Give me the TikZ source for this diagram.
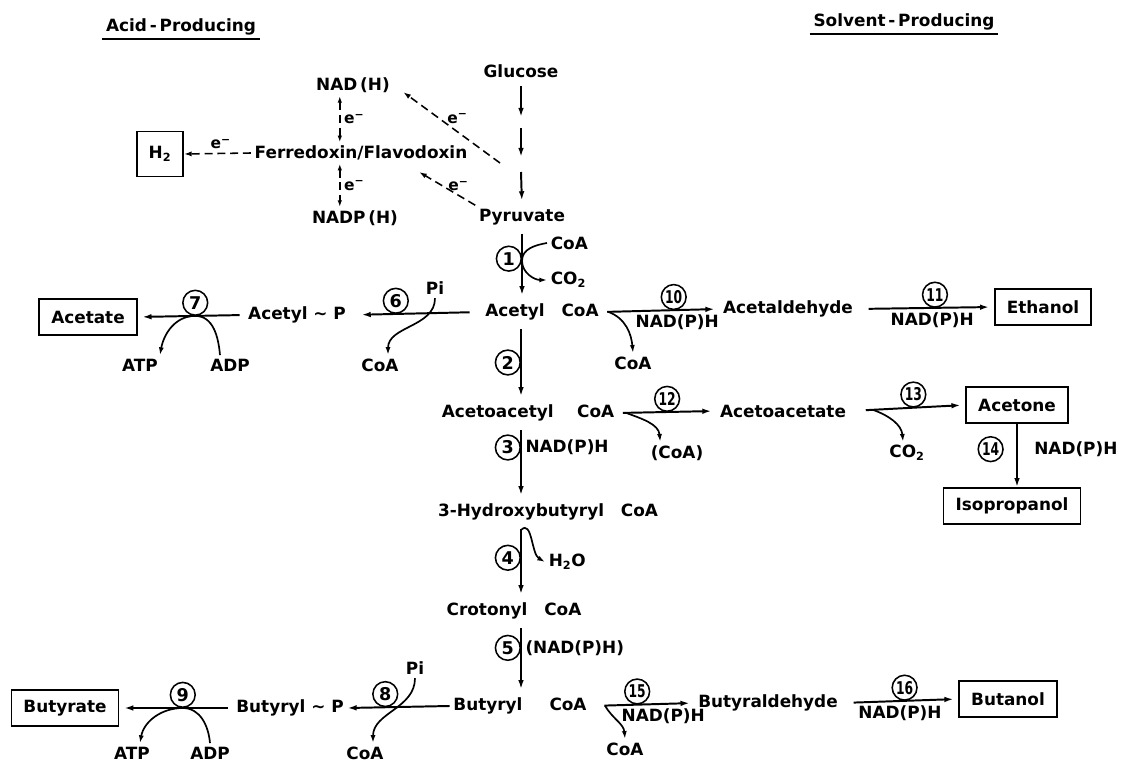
\documentclass[tikz,border=0pt]{standalone}
\usepackage{fontspec}
\setmainfont{DejaVu Sans}
\usepackage{graphicx}
\usetikzlibrary{arrows.meta,positioning}
\newcommand{\nn}[1]{\scalebox{0.7}[1]{#1}}

\begin{document}
\begin{tikzpicture}[x=0.025cm,y=0.025cm,
  every node/.style={font=\bfseries\fontsize{12}{14}\selectfont,inner sep=2.5pt},
  prod/.style={draw,line width=1.2pt,inner xsep=0.3cm,minimum height=0.9cm},
  stepno/.style={circle,draw,line width=1.1pt,inner sep=0pt,minimum size=0.62cm,
    font=\bfseries\fontsize{12.5}{12.5}\selectfont},
  rxn/.style={line width=1.4pt,-{Latex[length=6.5pt,width=4pt]},
    shorten <=0.12cm,shorten >=0.12cm},
  side/.style={line width=1.2pt,-{Latex[length=5.5pt,width=3.6pt]}},
  edash/.style={line width=1.1pt,dash pattern=on 0.2cm off 0.12cm,
    -{Latex[length=5.5pt,width=3.6pt]}},
  elab/.style={font=\bfseries\fontsize{11}{11}\selectfont}]
\useasboundingbox (0,0) rectangle (1123,764);

% headings
\node (acidhdr) at (181,737) {Acid\,-\,Producing};
\node (solvhdr) at (904,742) {Solvent\,-\,Producing};
\draw[line width=1.1pt] (acidhdr.south west) -- (acidhdr.south east);
\draw[line width=1.1pt] (solvhdr.south west) -- (solvhdr.south east);

% glucose -> pyruvate
\node (glucose) at (521,693) {Glucose};
\node (pyruvate) at (522,547) {Pyruvate};
\coordinate (g1) at (521,647);
\coordinate (g2) at (521,636);
\coordinate (g3) at (521,607);
\coordinate (g4) at (521,592);
\draw[rxn,shorten >=0pt] (glucose.south) -- (g1);
\draw[rxn,shorten <=0pt,shorten >=0pt] (g2) -- (g3);
\draw[rxn,shorten <=0pt] (g4) -- (pyruvate.north);

% electron carriers
\node (nadh) at (353,679) {NAD\,(H)};
\node (ferre) at (361,611) {Ferredoxin/Flavodoxin};
\node (nadph) at (355,546) {NADP\,(H)};
\node[prod,inner xsep=0pt,minimum width=1.15cm,minimum height=1.12cm] (htwo) at (160,610) {H\textsubscript{2}};
\draw[edash] (ferre.west) -- node[elab,above,pos=0.45]{e\textsuperscript{−}} (htwo.east);
\coordinate (v1) at ([xshift=-0.33cm]nadh.south);
\draw[edash,{Latex[length=4.5pt,width=3.2pt]}-{Latex[length=4.5pt,width=3.2pt]}]
  (v1) -- (v1 |- ferre.north) node[elab,midway,right]{e\textsuperscript{−}};
\draw[edash,{Latex[length=4.5pt,width=3.2pt]}-{Latex[length=4.5pt,width=3.2pt]}]
  (v1 |- ferre.south) -- (v1 |- nadph.north) node[elab,midway,right]{e\textsuperscript{−}};
\coordinate (gx) at (500,601);
\draw[edash,shorten >=0.3cm] (gx) -- node[elab,pos=0.4,above=3pt]{e\textsuperscript{−}} (nadh.east);
\draw[edash] (pyruvate.north west) -- node[elab,pos=0.3,above]{e\textsuperscript{−}}
  ([shift={(-1.3cm,-0.2cm)}]ferre.south east);

% pyruvate -> acetyl CoA
\node (acetylcoa) at (542,452) {Acetyl\quad CoA};
\draw[rxn] (pyruvate.south) -- coordinate[pos=0.45](k1) node[stepno,left,pos=0.42]{1}
  (pyruvate.south |- acetylcoa.north);
\node[anchor=west] (coa1) at (547,521) {CoA};
\node[anchor=west] (co21) at (547,484) {CO\textsubscript{2}};
\draw[side] (coa1.west) to[out=190,in=90] (k1) to[out=-90,in=180] (co21.west);

% acetate branch
\node (acetylp) at (297,449) {Acetyl \textasciitilde{} P};
\node[prod] (acetate) at (88,447) {Acetate};
\draw[rxn,shorten <=0.3cm,shorten >=0.3cm] (acetylcoa.west) -- node[stepno,above,pos=0.65]{6} (acetylp.east);
\node (pi6) at (435,476) {Pi};
\node (coa6) at (380,399) {CoA};
\draw[side] (pi6.south) to[out=-90,in=90] ([xshift=0.2cm]coa6.north);
\draw[rxn] (acetylp.west) -- coordinate[pos=0.46](p7) node[stepno,above,pos=0.46]{7} (acetate.east);
\node (atp7) at (140,399) {ATP};
\node (adp7) at (230,399) {ADP};
\draw[side] ([xshift=-0.25cm]adp7.north) to[out=95,in=0] (p7)
  to[out=180,in=80] ([xshift=0.5cm]atp7.north);

% ethanol branch
\node (acetaldehyde) at (788,455) {Acetaldehyde};
\node[prod] (ethanol) at (1043,457) {Ethanol};
\draw[rxn] (acetylcoa.east) -- coordinate[pos=0.05](c10) node[stepno,above,pos=0.61]{\nn{10}}
  node[below,pos=0.64]{NAD(P)H} (acetaldehyde.west);
\node (coa10) at (633,401) {CoA};
\draw[side] (c10) to[out=-20,in=95] (coa10.north);
\draw[rxn,shorten <=0.3cm] (acetaldehyde.east) -- node[stepno,above,pos=0.57]{\nn{11}}
  node[below,pos=0.55]{NAD(P)H} (ethanol.west);

% acetyl CoA -> acetoacetyl CoA
\node (acetoacetylcoa) at (528,351) {Acetoacetyl\hspace{1.4em}CoA};
\draw[rxn] (glucose |- acetylcoa.south) -- node[stepno,left]{2} (glucose |- acetoacetylcoa.north);

% acetone / isopropanol branch
\node (acetoacetate) at (783,353) {Acetoacetate};
\draw[rxn] (acetoacetylcoa.east) -- coordinate[pos=0.08](c12) node[stepno,above,pos=0.5]{\nn{12}}
  (acetoacetate.west);
\node (coa12) at (677,311) {(CoA)};
\draw[side] (c12) to[out=-20,in=95] ([xshift=-0.42cm]coa12.north);
\node[prod] (acetone) at (1017,359) {Acetone};
\draw[rxn,shorten <=0.4cm] (acetoacetate.east) -- coordinate[pos=0.2](c13)
  node[stepno,above,pos=0.55]{\nn{13}} (acetone.west);
\node (co13) at (907,311) {CO\textsubscript{2}};
\draw[side] (c13) to[out=-20,in=95] ([xshift=-0.1cm]co13.north);
\node[prod] (isopropanol) at (1012,258) {Isopropanol};
\draw[rxn,shorten <=0pt,shorten >=0pt] (acetone.south) -- node[stepno,left=0.33cm,pos=0.4]{\nn{14}}
  node[right=0.32cm,pos=0.4]{NAD(P)H} (acetone.south |- isopropanol.north);

% acetoacetyl CoA -> butyryl CoA
\node (hydroxy) at (548,252) {3-Hydroxybutyryl\quad CoA};
\draw[rxn] (glucose |- acetoacetylcoa.south) -- node[stepno,left,pos=0.3]{3}
  node[right,pos=0.3]{NAD(P)H} (glucose |- hydroxy.north);
\node (crotonyl) at (514,153) {Crotonyl\quad CoA};
\draw[rxn] (glucose |- hydroxy.south) -- coordinate[pos=0.08](c4) node[stepno,left,pos=0.45]{4}
  (glucose |- crotonyl.north);
\node[anchor=west] (h2o) at (545,202) {H\textsubscript{2}O};
\draw[side] (c4) to[out=45,in=150] (h2o.west);
\node (butyrylcoa) at (520,58) {Butyryl\hspace{1.6em}CoA};
\draw[rxn] (glucose |- crotonyl.south) -- node[stepno,left,pos=0.35]{5}
  node[right,pos=0.35]{(NAD(P)H)} (glucose |- butyrylcoa.north);

% butyrate branch
\node (butyrylp) at (290,56) {Butyryl \textasciitilde{} P};
\node[prod] (butyrate) at (65,56) {Butyrate};
\draw[rxn,shorten <=0pt,shorten >=0pt] (butyrylcoa.west) -- node[stepno,above,pos=0.63]{8} (butyrylp.east);
\node (pi8) at (415,96) {Pi};
\node (coa8) at (365,11) {CoA};
\draw[side] (pi8.south) to[out=-90,in=90] ([xshift=0.2cm]coa8.north);
\draw[rxn] (butyrylp.west) -- coordinate[pos=0.44](p9) node[stepno,above,pos=0.44]{9} (butyrate.east);
\node (atp9) at (132,11) {ATP};
\node (adp9) at (210,11) {ADP};
\draw[side] (adp9.north) to[out=95,in=0] (p9) to[out=180,in=80] ([xshift=0.2cm]atp9.north);

% butanol branch
\node (butyraldehyde) at (768,61) {Butyraldehyde};
\node[prod] (butanol) at (1008,65) {Butanol};
\draw[rxn,shorten <=0.35cm] (butyrylcoa.east) -- coordinate[pos=0.14](c15)
  node[stepno,above,pos=0.45]{\nn{15}} node[below,pos=0.7]{NAD(P)H} (butyraldehyde.west);
\node (coa15) at (625,15) {CoA};
\draw[side] (c15) to[out=-60,in=95] (coa15.north);
\draw[rxn,shorten <=0.3cm] (butyraldehyde.east) -- node[stepno,above,pos=0.54]{\nn{16}}
  node[below,pos=0.5]{NAD(P)H} (butanol.west);
\end{tikzpicture}
\end{document}
